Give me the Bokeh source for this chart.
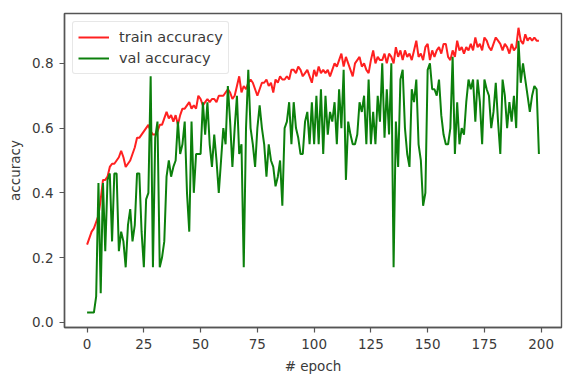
from bokeh.plotting import figure
from bokeh.models import Range1d, FixedTicker, NumeralTickFormatter, Legend, LegendItem
from bokeh.embed import file_html
from bokeh.resources import INLINE

epochs = list(range(200))

train_accuracy = [
    0.24, 0.26, 0.28, 0.29, 0.31, 0.33, 0.38, 0.44, 0.44, 0.45,
    0.48, 0.49, 0.49, 0.50, 0.51, 0.53, 0.51, 0.48, 0.49, 0.50,
    0.52, 0.54, 0.57, 0.57, 0.58, 0.59, 0.60, 0.61, 0.59, 0.58,
    0.58, 0.59, 0.61, 0.61, 0.63, 0.65, 0.63, 0.64, 0.62, 0.64,
    0.61, 0.64, 0.66, 0.66, 0.67, 0.68, 0.66, 0.67, 0.66, 0.70,
    0.69, 0.67, 0.68, 0.69, 0.68, 0.69, 0.69, 0.68, 0.70, 0.70,
    0.70, 0.71, 0.72, 0.71, 0.69, 0.70, 0.73, 0.76, 0.71, 0.73,
    0.72, 0.74, 0.75, 0.74, 0.72, 0.70, 0.72, 0.74, 0.74, 0.75,
    0.73, 0.74, 0.71, 0.75, 0.74, 0.76, 0.75, 0.75, 0.76, 0.75,
    0.78, 0.78, 0.77, 0.79, 0.78, 0.76, 0.77, 0.78, 0.76, 0.74,
    0.78, 0.76, 0.79, 0.77, 0.78, 0.77, 0.78, 0.76, 0.78, 0.80,
    0.79, 0.81, 0.83, 0.79, 0.82, 0.80, 0.78, 0.76, 0.80, 0.81,
    0.82, 0.79, 0.80, 0.78, 0.77, 0.81, 0.84, 0.80, 0.82, 0.81,
    0.81, 0.83, 0.80, 0.83, 0.82, 0.80, 0.85, 0.82, 0.84, 0.81,
    0.84, 0.82, 0.83, 0.81, 0.84, 0.87, 0.82, 0.83, 0.81, 0.85,
    0.86, 0.81, 0.84, 0.82, 0.84, 0.85, 0.83, 0.86, 0.86, 0.82,
    0.81, 0.84, 0.82, 0.87, 0.84, 0.85, 0.83, 0.85, 0.84, 0.86,
    0.84, 0.88, 0.85, 0.86, 0.84, 0.88, 0.87, 0.85, 0.84, 0.86,
    0.88, 0.87, 0.86, 0.84, 0.86, 0.85, 0.83, 0.86, 0.84, 0.85,
    0.91, 0.87, 0.86, 0.89, 0.87, 0.88, 0.87, 0.88, 0.87, 0.87,
]

val_accuracy = [
    0.03, 0.03, 0.03, 0.03, 0.08, 0.43, 0.09, 0.43, 0.22, 0.44,
    0.46, 0.25, 0.46, 0.46, 0.22, 0.28, 0.25, 0.17, 0.30, 0.35,
    0.25, 0.30, 0.46, 0.46, 0.28, 0.17, 0.38, 0.40, 0.76, 0.17,
    0.57, 0.62, 0.17, 0.20, 0.25, 0.45, 0.50, 0.45, 0.48, 0.50,
    0.62, 0.52, 0.55, 0.62, 0.40, 0.28, 0.62, 0.40, 0.52, 0.52,
    0.52, 0.68, 0.58, 0.68, 0.55, 0.48, 0.58, 0.50, 0.40, 0.50,
    0.60, 0.55, 0.73, 0.62, 0.48, 0.60, 0.70, 0.52, 0.55, 0.17,
    0.60, 0.78, 0.60, 0.55, 0.48, 0.60, 0.67, 0.60, 0.55, 0.45,
    0.55, 0.50, 0.48, 0.42, 0.45, 0.50, 0.36, 0.60, 0.62, 0.68,
    0.55, 0.68, 0.60, 0.57, 0.52, 0.52, 0.62, 0.65, 0.55, 0.68,
    0.55, 0.70, 0.55, 0.72, 0.52, 0.70, 0.58, 0.65, 0.62, 0.68,
    0.55, 0.72, 0.60, 0.78, 0.44, 0.62, 0.58, 0.55, 0.55, 0.58,
    0.68, 0.65, 0.70, 0.55, 0.75, 0.55, 0.65, 0.55, 0.70, 0.62,
    0.80, 0.57, 0.72, 0.58, 0.80, 0.17, 0.62, 0.48, 0.75, 0.78,
    0.60, 0.52, 0.48, 0.72, 0.68, 0.75, 0.55, 0.50, 0.36, 0.40,
    0.78, 0.80, 0.72, 0.72, 0.70, 0.75, 0.64, 0.58, 0.55, 0.55,
    0.60, 0.82, 0.52, 0.68, 0.55, 0.60, 0.58, 0.68, 0.75, 0.72,
    0.75, 0.62, 0.75, 0.68, 0.55, 0.75, 0.72, 0.70, 0.60, 0.65,
    0.74, 0.62, 0.52, 0.75, 0.70, 0.60, 0.68, 0.62, 0.70, 0.60,
    0.87, 0.74, 0.80, 0.75, 0.70, 0.65, 0.70, 0.73, 0.72, 0.52,
]

x_ticks = [0, 25, 50, 75, 100, 125, 150, 175, 200]
y_ticks = [0.0, 0.2, 0.4, 0.6, 0.8]

FONT = "DejaVu Sans"
TEXT = "#3a3a3a"
FRAME = "#555555"

p = figure(width=563, height=376, output_backend="svg", toolbar_location=None,
           x_range=Range1d(-9.95, 208.95), y_range=Range1d(-0.016, 0.954),
           min_border_left=64, min_border_right=2, min_border_top=13, min_border_bottom=44)

r_train = p.line(epochs, train_accuracy, line_color="#ff2020", line_width=2)
r_val = p.line(epochs, val_accuracy, line_color="#0c800c", line_width=2)

p.xgrid.grid_line_color = None
p.ygrid.grid_line_color = None
p.outline_line_color = FRAME
p.outline_line_width = 1.4
p.background_fill_color = "white"
p.border_fill_color = "white"

p.xaxis.ticker = FixedTicker(ticks=x_ticks)
p.yaxis.ticker = FixedTicker(ticks=y_ticks)
p.yaxis.formatter = NumeralTickFormatter(format="0.0")

for ax in (p.xaxis, p.yaxis):
    ax.axis_line_color = FRAME
    ax.axis_line_width = 1.4
    ax.major_tick_line_color = FRAME
    ax.major_tick_line_width = 1.2
    ax.major_tick_in = 0
    ax.major_tick_out = 5
    ax.minor_tick_line_color = None
    ax.major_label_text_font = FONT
    ax.major_label_text_font_size = "13.5px"
    ax.major_label_text_color = TEXT
    ax.axis_label_text_font = FONT
    ax.axis_label_text_font_size = "13.5px"
    ax.axis_label_text_font_style = "normal"
    ax.axis_label_text_color = TEXT

p.xaxis.axis_label = "# epoch"
p.yaxis.axis_label = "accuracy"
p.xaxis.major_label_standoff = 6
p.xaxis.axis_label_standoff = 6
p.yaxis.major_label_standoff = 6
p.yaxis.axis_label_standoff = 6

legend = Legend(items=[LegendItem(label="train accuracy", renderers=[r_train]),
                       LegendItem(label="val accuracy", renderers=[r_val])],
                location="top_left")
legend.margin = 8
legend.padding = 5
legend.spacing = 1
legend.glyph_width = 31
legend.glyph_height = 20
legend.label_standoff = 10
legend.label_text_font = FONT
legend.label_text_font_size = "14.5px"
legend.label_text_color = TEXT
legend.border_line_color = "#d0d0d0"
legend.border_line_width = 1
legend.border_radius = 3
legend.background_fill_alpha = 0.8
p.add_layout(legend, "center")

open("out.html", "w").write(file_html(p, INLINE))
